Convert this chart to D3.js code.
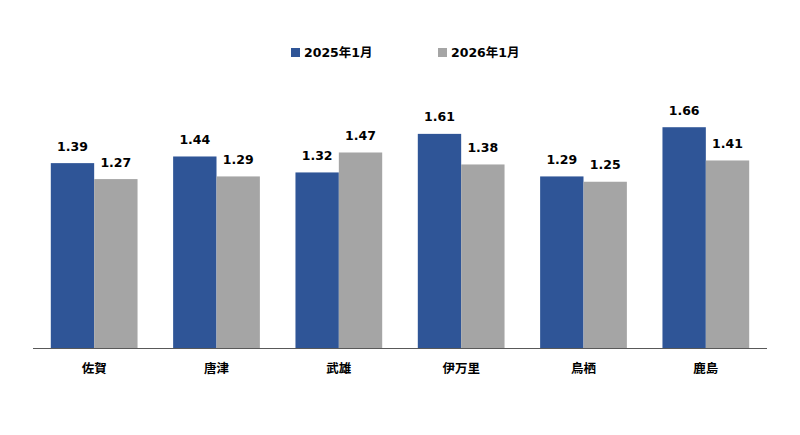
<!DOCTYPE html>
<html><head><meta charset="utf-8">
<script src="https://cdn.jsdelivr.net/npm/d3@7"></script>
<style>body{margin:0;background:#fff}svg{display:block}</style>
</head><body>
<svg id="c" width="800" height="435"></svg>
<script>
const categories = ["佐賀","唐津","武雄","伊万里","鳥栖","鹿島"];
const seriesNames = ["2025年1月","2026年1月"];
const values2025 = [1.39,1.44,1.32,1.61,1.29,1.66];
const values2026 = [1.27,1.29,1.47,1.38,1.25,1.41];
const colors = ["#2F5597","#A5A5A5"];

const svg = d3.select("#c");
const font = "'DejaVu Sans','Noto Sans CJK JP',sans-serif";
const x0 = d3.scaleBand().domain(categories).range([33,767]).paddingInner(0.291).paddingOuter(0.1455);
const x1 = d3.scaleBand().domain(seriesNames).range([0,x0.bandwidth()]);
const y = d3.scaleLinear().domain([0,2]).range([348,82]);
const data = [values2025, values2026];

const g = svg.append("g");
categories.forEach((c,i)=>{
  seriesNames.forEach((s,j)=>{
    const v = data[j][i];
    g.append("rect").attr("x",x0(c)+x1(s)).attr("y",y(v)).attr("width",x1.bandwidth()).attr("height",y(0)-y(v)).attr("fill",colors[j]);
    g.append("text").attr("x",x0(c)+x1(s)+x1.bandwidth()/2).attr("y",y(v)-12.5)
      .attr("text-anchor","middle").attr("font-family",font).attr("font-weight","bold").attr("font-size",12.5).attr("fill","#000")
      .text(v.toFixed(2));
  });
});

const ax = svg.append("g").attr("transform","translate(0,348)").call(d3.axisBottom(x0).tickSize(0).tickPadding(16));
ax.select(".domain").attr("stroke","#595959").attr("stroke-width",1).attr("d","M33,0.5H767");
ax.selectAll("text").attr("font-family",font).attr("font-weight","bold").attr("font-size",12.5).attr("fill","#000");

const leg = svg.append("g");
const legX = [291,438];
seriesNames.forEach((s,j)=>{
  leg.append("rect").attr("x",legX[j]).attr("y",48).attr("width",9).attr("height",9).attr("fill",colors[j]);
  leg.append("text").attr("x",legX[j]+13).attr("y",57).attr("font-family",font).attr("font-weight","bold").attr("font-size",12.5).attr("fill","#000").text(s);
});
</script>
</body></html>
